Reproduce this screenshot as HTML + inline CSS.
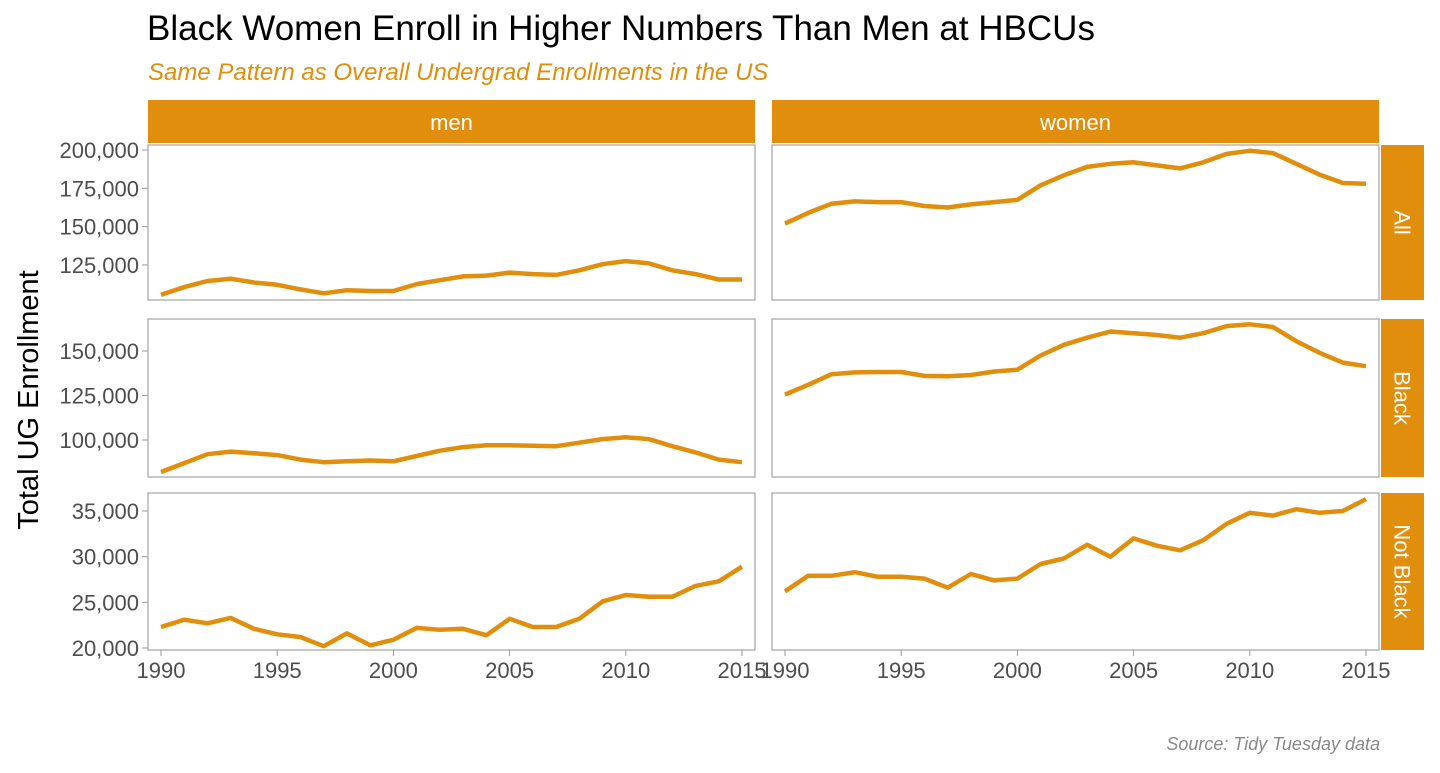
<!DOCTYPE html>
<html><head><meta charset="utf-8"><style>
body{margin:0;background:#fff;font-family:"Liberation Sans",sans-serif;}
svg text{font-family:"Liberation Sans",sans-serif;}
</style></head><body>
<svg id="chart" width="1440" height="768" viewBox="0 0 1440 768" xmlns="http://www.w3.org/2000/svg">
<text x="147" y="40" font-size="35" fill="#000">Black Women Enroll in Higher Numbers Than Men at HBCUs</text>
<text x="148" y="80" font-size="24" font-style="italic" fill="#E08E0B">Same Pattern as Overall Undergrad Enrollments in the US</text>
<text transform="translate(38,400) rotate(-90)" text-anchor="middle" font-size="29" fill="#000">Total UG Enrollment</text>
<text x="1380" y="750" text-anchor="end" font-size="18" font-style="italic" fill="#888">Source: Tidy Tuesday data</text>
<g id="plots"></g>
</svg>
<script>
const years=[1990,1991,1992,1993,1994,1995,1996,1997,1998,1999,2000,2001,2002,2003,2004,2005,2006,2007,2008,2009,2010,2011,2012,2013,2014,2015];
const xTicks=[1990,1995,2000,2005,2010,2015];
const colLabels=["men","women"];
const rowLabels=["All","Black","Not Black"];
const menAll=[105.5,110.5,114.5,116,113.5,112,109,106.5,108.5,108,108,112.5,115,117.5,118,120,119,118.5,121.5,125.5,127.5,126,121.5,119,115.5,115.5];
const womenAll=[152,159,165,166.5,166,166,163.5,162.5,164.5,166,167.5,177,183.5,189,191,192,190,188,192,197.5,199.5,198,191,184,178.5,178];
const menBlack=[82,87,92,93.5,92.5,91.5,89,87.5,88,88.5,88,91,94,96,97,97,96.8,96.5,98.5,100.5,101.5,100.5,96.5,93,89,87.5];
const womenBlack=[125.5,131,137,138,138.2,138.2,136,135.8,136.5,138.5,139.5,147.5,153.5,157.5,161,160,159,157.5,160,164,165,163.5,155.5,149,143.5,141.5];
const menNotBlack=[22.3,23.1,22.7,23.3,22.1,21.5,21.2,20.2,21.6,20.3,20.9,22.2,22.0,22.1,21.4,23.2,22.3,22.3,23.2,25.1,25.8,25.6,25.6,26.8,27.3,28.9];
const womenNotBlack=[26.2,27.9,27.9,28.3,27.8,27.8,27.6,26.6,28.1,27.4,27.6,29.2,29.8,31.3,30.0,32.0,31.2,30.7,31.8,33.6,34.8,34.5,35.2,34.8,35.0,36.3];
const yTicksAll=[125000,150000,175000,200000];
const yTicksBlack=[100000,125000,150000];
const yTicksNotBlack=[20000,25000,30000,35000];

const ORANGE="#E08E0B";
const cols=[{x0:148,x1:755},{x0:772,x1:1379}];
const rows=[
 {y0:145,y1:300,vmin:102100,vmax:203300,ticks:yTicksAll,series:[menAll,womenAll],k:1000},
 {y0:319,y1:477,vmin:79200,vmax:168000,ticks:yTicksBlack,series:[menBlack,womenBlack],k:1000},
 {y0:493,y1:650,vmin:19780,vmax:36970,ticks:yTicksNotBlack,series:[menNotBlack,womenNotBlack],k:1000}
];
const NS="http://www.w3.org/2000/svg";
const g=document.getElementById('plots');
function mk(tag,attrs,parent){const e=document.createElementNS(NS,tag);for(const k in attrs)e.setAttribute(k,attrs[k]);(parent||g).appendChild(e);return e;}
function xScale(c,yr){const col=cols[c];return col.x0+13+(yr-1990)/25*(col.x1-col.x0-26);}
function yScale(r,v){const row=rows[r];return row.y1-(v-row.vmin)/(row.vmax-row.vmin)*(row.y1-row.y0);}
const fmt=v=>v.toLocaleString('en-US');

cols.forEach((c,i)=>{
 const s=mk('rect',{x:c.x0,y:100,width:c.x1-c.x0,height:43,fill:ORANGE});
 
 
 const t=mk('text',{x:(c.x0+c.x1)/2,y:130,'text-anchor':'middle','font-size':22,fill:'#fff'});
 t.textContent=colLabels[i];
 
 
});
rows.forEach((row,r)=>{
 const s=mk('rect',{x:1381,y:row.y0,width:43,height:row.y1-row.y0,fill:ORANGE});
 
 
 const cy=(row.y0+row.y1)/2;
 const t=mk('text',{x:1402,y:cy,'text-anchor':'middle','dominant-baseline':'central','font-size':22,fill:'#fff',transform:`rotate(90 1402 ${cy})`});
 t.textContent=rowLabels[r];
 
 
 row.ticks.forEach(v=>{
  const y=yScale(r,v);
  const l=mk('line',{x1:142,x2:148,y1:y,y2:y,stroke:'#999','stroke-width':1});
  
  
  const tt=mk('text',{x:139,y:y+8,'text-anchor':'end','font-size':22,fill:'#4d4d4d'});
  tt.textContent=fmt(v);
  
  
 });
 cols.forEach((c,ci)=>{
  const p=mk('rect',{x:c.x0,y:row.y0,width:c.x1-c.x0,height:row.y1-row.y0,fill:'none',stroke:'#aaa','stroke-width':1.3});
  
  
  const d=row.series[ci].map((v,i)=>(i?'L':'M')+xScale(ci,years[i]).toFixed(1)+','+yScale(r,v*row.k).toFixed(1)).join(' ');
  const line=mk('path',{d:d,fill:'none',stroke:ORANGE,'stroke-width':4.5,'stroke-linejoin':'round'});
  
  
 });
});
cols.forEach((c,ci)=>{
 xTicks.forEach(yr=>{
  const x=xScale(ci,yr);
  const l=mk('line',{x1:x,x2:x,y1:650,y2:656,stroke:'#999','stroke-width':1});
  
  
  const t=mk('text',{x:x,y:678,'text-anchor':'middle','font-size':22,fill:'#4d4d4d'});
  t.textContent=yr;
  
  
 });
});
</script>
</body></html>
